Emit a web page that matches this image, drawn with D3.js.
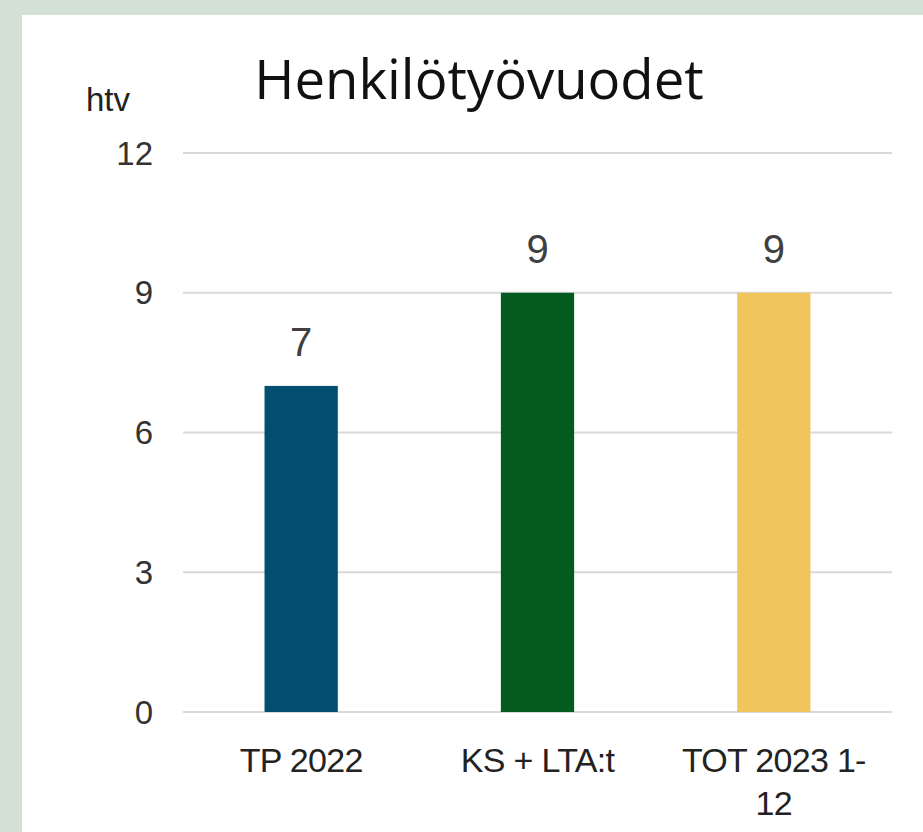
<!DOCTYPE html>
<html>
<head>
<meta charset="utf-8">
<script src="https://cdn.jsdelivr.net/npm/d3@7"></script>
<style>
  body { margin: 0; background: #d3e1d5; }
  svg { display: block; }
</style>
</head>
<body>
<svg width="923" height="832"></svg>
<script>
// chart data
const categories = ["TP 2022", "KS + LTA:t", "TOT 2023 1-12"];
const values = [7, 9, 9];
const colors = ["#014e6f", "#035b20", "#f0c55b"];
const yTicks = [0, 3, 6, 9, 12];

const svg = d3.select("svg");
const margin = { top: 153, right: 31, bottom: 120, left: 183 };
const W = 923, H = 832;
const height = H - margin.top - margin.bottom; // 559

// white panel
svg.append("rect")
    .attr("x", 22).attr("y", 15)
    .attr("width", W - 22).attr("height", H - 15)
    .attr("fill", "#ffffff");

const g = svg.append("g").attr("transform", `translate(${margin.left},${margin.top})`);
const width = W - margin.left - margin.right;

const x = d3.scaleBand()
    .domain(categories)
    .range([0, width])
    .paddingInner(0.69)
    .paddingOuter(0.345);

const y = d3.scaleLinear()
    .domain([0, 12])
    .range([height, 0]);

// gridlines
g.selectAll(".grid")
    .data(yTicks)
    .enter().append("line")
    .attr("class", "grid")
    .attr("x1", 0).attr("x2", width)
    .attr("y1", d => y(d)).attr("y2", d => y(d))
    .attr("stroke", "#d9d9d9")
    .attr("stroke-width", 2);

// y tick labels
g.selectAll(".ytick")
    .data(yTicks)
    .enter().append("text")
    .attr("class", "ytick")
    .attr("x", -30)
    .attr("y", d => y(d))
    .attr("dy", "0.35em")
    .attr("text-anchor", "end")
    .style("font-family", "Liberation Sans, Arial, sans-serif")
    .style("font-size", "33px")
    .style("fill", "#333")
    .text(d => d);

// unit label
svg.append("text")
    .attr("x", 86).attr("y", 111)
    .style("font-family", "Liberation Sans, Arial, sans-serif")
    .style("font-size", "33px")
    .style("fill", "#222")
    .text("htv");

// title
svg.append("text")
    .attr("x", 479).attr("y", 99)
    .attr("text-anchor", "middle")
    .style("font-family", "Open Sans, sans-serif")
    .style("font-size", "54.5px")
    .style("fill", "#111")
    .text("Henkilötyövuodet");

// bars
g.selectAll(".bar")
    .data(values)
    .enter().append("rect")
    .attr("class", "bar")
    .attr("x", (d, i) => x(categories[i]))
    .attr("width", x.bandwidth())
    .attr("y", d => y(d))
    .attr("height", d => height - y(d))
    .attr("fill", (d, i) => colors[i]);

// value labels
g.selectAll(".val")
    .data(values)
    .enter().append("text")
    .attr("class", "val")
    .attr("x", (d, i) => x(categories[i]) + x.bandwidth() / 2)
    .attr("y", d => y(d) - 30)
    .attr("text-anchor", "middle")
    .style("font-family", "Liberation Sans, Arial, sans-serif")
    .style("font-size", "40px")
    .style("fill", "#404040")
    .text(d => d);

// category labels (wrapped like the original)
const catLines = [["TP 2022"], ["KS + LTA:t"], ["TOT 2023 1-", "12"]];
categories.forEach((c, i) => {
    const t = g.append("text")
        .attr("text-anchor", "middle")
        .attr("x", x(c) + x.bandwidth() / 2)
        .attr("y", height + 60)
        .style("font-family", "Liberation Sans, Arial, sans-serif")
        .style("font-size", "34px")
        .style("letter-spacing", "-0.7px")
        .style("fill", "#222");
    catLines[i].forEach((line, j) => {
        t.append("tspan")
            .attr("x", x(c) + x.bandwidth() / 2)
            .attr("dy", j === 0 ? 0 : 43)
            .text(line);
    });
});
</script>
</body>
</html>
